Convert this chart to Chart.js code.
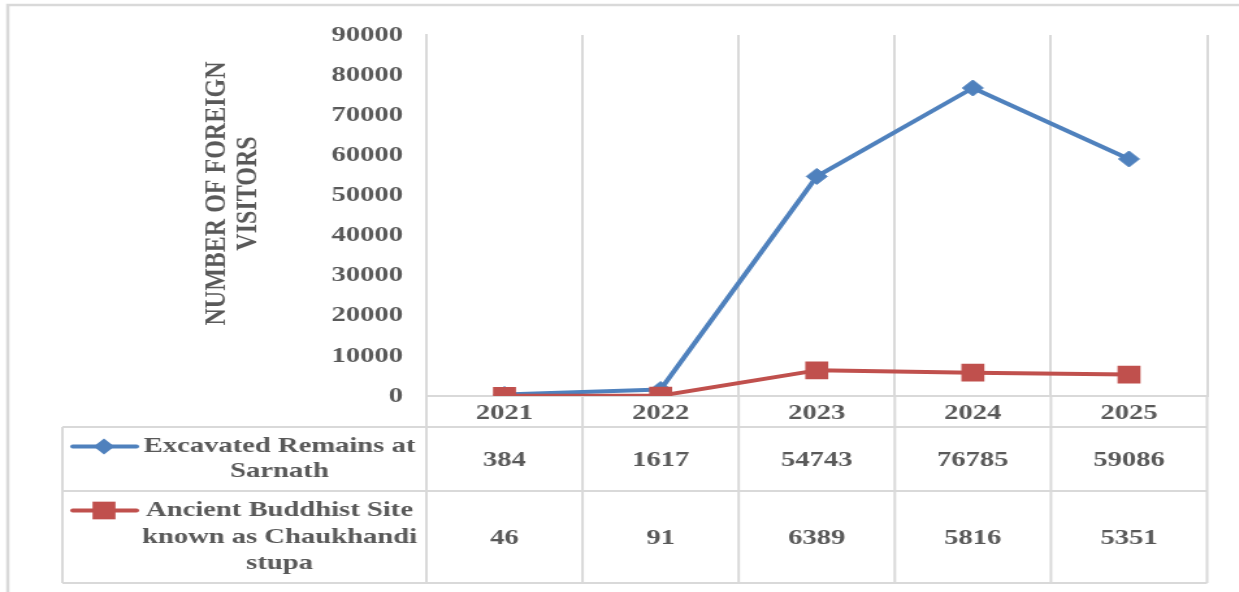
<!DOCTYPE html>
<html>
<head>
<meta charset="utf-8">
<title>Foreign visitors</title>
<script src="https://cdn.jsdelivr.net/npm/chart.js@4.4.1/dist/chart.umd.min.js"></script>
<style>
    html, body { margin: 0; padding: 0; background: #fff; overflow: hidden; }
    /* the source picture is stretched sideways, so the chart is too */
    #wrap { width: 953px; height: 592px; transform: scaleX(1.3); transform-origin: 0 0; }
</style>
</head>
<body>
<div id="wrap"><canvas id="visitorsChart"></canvas></div>
<script>
var years = ['2021', '2022', '2023', '2024', '2025'];

var sarnathLabel = ['Excavated Remains at', 'Sarnath'];
var sarnathVisitors = [384, 1617, 54743, 76785, 59086];

var chaukhandiLabel = ['Ancient Buddhist Site', 'known as Chaukhandi', 'stupa'];
var chaukhandiVisitors = [46, 91, 6389, 5816, 5351];

var yTitle = ['NUMBER OF FOREIGN', 'VISITORS'];
var yMax = 90000;
var yStep = 10000;

var gridGray = '#d9d9d9';
var textGray = '#595959';
var blue = '#4f81bd';
var red = '#c0504d';
var serif = '"Liberation Serif", "Times New Roman", serif';

var tableLeft = 48;

var dataTablePlugin = {
    id: 'dataTable',
    beforeDraw: function (chart) {
        var ctx = chart.ctx;
        ctx.save();
        ctx.strokeStyle = gridGray;
        ctx.lineWidth = 2.5;
        ctx.strokeRect(6, 5, chart.width + 20, chart.height + 20);
        ctx.restore();
    },
    afterDraw: function (chart) {
        var ctx = chart.ctx;
        var area = chart.chartArea;
        var xScale = chart.scales.x;
        var n = years.length;
        var colW = (area.right - area.left) / n;
        var headBottom = area.bottom + 31;
        var row1Bottom = headBottom + 64;
        var row2Bottom = row1Bottom + 92;

        ctx.save();

        // table lines
        ctx.strokeStyle = gridGray;
        ctx.lineWidth = 2;
        ctx.beginPath();
        for (var i = 0; i <= n; i++) {
            var x = area.left + colW * i;
            ctx.moveTo(x, area.bottom);
            ctx.lineTo(x, row2Bottom);
        }
        [headBottom, row1Bottom, row2Bottom].forEach(function (y) {
            ctx.moveTo(tableLeft, y);
            ctx.lineTo(area.right, y);
        });
        ctx.moveTo(tableLeft, headBottom);
        ctx.lineTo(tableLeft, row2Bottom);
        ctx.stroke();

        // rows
        var rows = [
            { names: sarnathLabel, values: sarnathVisitors, top: headBottom, bottom: row1Bottom, lineGap: 25, ds: 0 },
            { names: chaukhandiLabel, values: chaukhandiVisitors, top: row1Bottom, bottom: row2Bottom, lineGap: 26.5, ds: 1 }
        ];
        var nameCenter = 215;
        rows.forEach(function (row) {
            var mid = (row.top + row.bottom) / 2;
            var firstY = mid - row.lineGap * (row.names.length - 1) / 2;

            ctx.fillStyle = textGray;
            ctx.font = 'bold 22px ' + serif;
            ctx.textAlign = 'center';
            ctx.textBaseline = 'middle';
            row.names.forEach(function (name, k) {
                ctx.fillText(name, nameCenter, firstY + row.lineGap * k);
            });
            row.values.forEach(function (v, k) {
                ctx.fillText(String(v), xScale.getPixelForValue(k), mid + 1);
            });

            // legend key
            var ds = chart.data.datasets[row.ds];
            ctx.strokeStyle = ds.borderColor;
            ctx.lineWidth = 4;
            ctx.lineCap = 'round';
            ctx.beginPath();
            ctx.moveTo(56, firstY);
            ctx.lineTo(105, firstY);
            ctx.stroke();
            ctx.fillStyle = ds.borderColor;
            Chart.helpers.drawPoint(ctx, {
                pointStyle: ds.pointStyle,
                radius: ds.pointRadius,
                borderWidth: 0
            }, 80, firstY);
        });

        // axis title
        ctx.fillStyle = textGray;
        ctx.font = 'bold 24px ' + serif;
        ctx.textAlign = 'center';
        ctx.textBaseline = 'middle';
        yTitle.forEach(function (line, k) {
            ctx.save();
            ctx.translate(167 + 24 * k, 193.5);
            ctx.rotate(-Math.PI / 2);
            ctx.fillText(line, 0, 0);
            ctx.restore();
        });

        ctx.restore();
    }
};

var visitorsChart = new Chart('visitorsChart', {
    type: 'line',
    data: {
        labels: years,
        datasets: [
            {
                label: sarnathLabel.join(' '),
                data: sarnathVisitors,
                order: 1,
                borderColor: blue,
                backgroundColor: blue,
                borderWidth: 4,
                borderJoinStyle: 'round',
                borderCapStyle: 'round',
                pointStyle: 'rectRot',
                pointRadius: 8,
                pointBackgroundColor: blue,
                pointBorderColor: blue,
                pointBorderWidth: 1,
                tension: 0
            },
            {
                label: chaukhandiLabel.join(' '),
                data: chaukhandiVisitors,
                order: 0,
                borderColor: red,
                backgroundColor: red,
                borderWidth: 4,
                borderJoinStyle: 'round',
                borderCapStyle: 'round',
                pointStyle: 'rect',
                pointRadius: 12.5,
                pointBackgroundColor: red,
                pointBorderColor: red,
                pointBorderWidth: 0,
                tension: 0
            }
        ]
    },
    plugins: [dataTablePlugin],
    options: {
        responsive: true,
        maintainAspectRatio: false,
        animation: false,
        layout: {
            padding: { top: 35, right: 24.5, bottom: 165, left: 0 }
        },
        plugins: {
            legend: { display: false },
            tooltip: { enabled: false }
        },
        scales: {
            x: {
                offset: true,
                grid: {
                    display: true,
                    offset: true,
                    color: gridGray,
                    lineWidth: 2,
                    drawTicks: false
                },
                border: { display: true, color: gridGray, width: 2 },
                ticks: {
                    padding: 4,
                    color: textGray,
                    font: { family: serif, size: 22, weight: 'bold' }
                },
                afterFit: function (scale) {
                    scale.height = 31;
                }
            },
            y: {
                min: 0,
                max: yMax,
                grid: { display: false, drawTicks: false },
                border: { display: true, color: gridGray, width: 2 },
                ticks: {
                    stepSize: yStep,
                    padding: 18,
                    color: textGray,
                    font: { family: serif, size: 22, weight: 'bold' },
                    callback: function (value) {
                        return String(value);
                    }
                },
                afterFit: function (scale) {
                    scale.width = 328;
                }
            }
        }
    }
});
</script>
</body>
</html>
